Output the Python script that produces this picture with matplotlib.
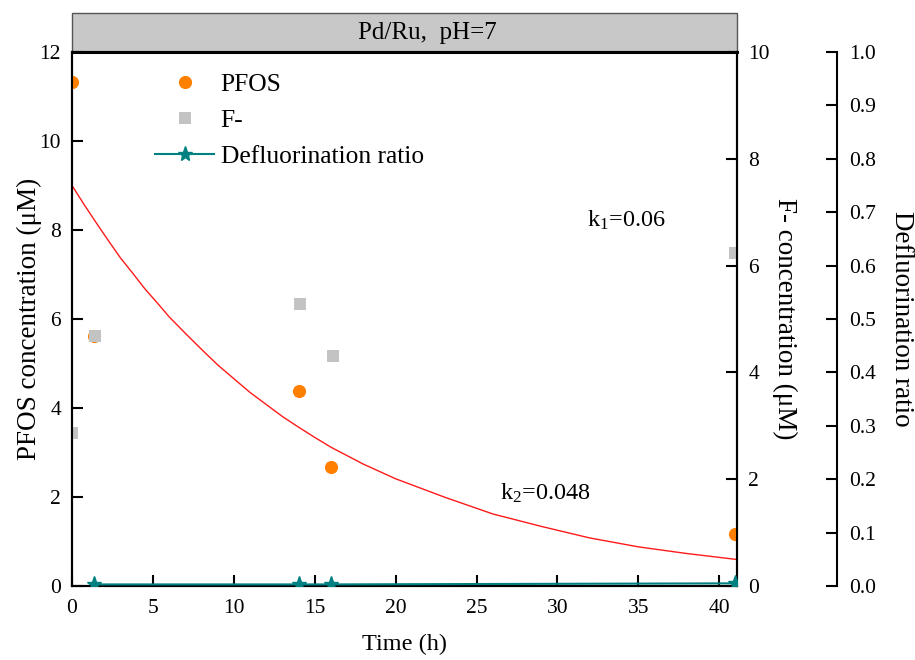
import matplotlib
matplotlib.use("Agg")
import matplotlib.pyplot as plt
from matplotlib.patches import Rectangle

plt.rcParams['font.family'] = ['Liberation Serif', 'DejaVu Serif']
plt.rcParams['mathtext.fontset'] = 'custom'
plt.rcParams['mathtext.rm'] = 'Liberation Serif'
plt.rcParams['mathtext.it'] = 'Liberation Serif:italic'

# Measured data
time_pfos = [0, 1.33, 14, 16, 41]
pfos_conc = [11.32, 5.62, 4.39, 2.67, 1.17]

time_f = [0, 1.4, 14.1, 16.1, 41]
f_conc = [2.87, 4.68, 5.29, 4.30, 6.24]

time_ratio = [1.33, 14, 16, 41]
defluor_ratio = [0.003, 0.003, 0.003, 0.005]

# First-order fit of PFOS decay
fit_time = [0, 0.75, 1.5, 2.25, 3, 3.75, 4.5, 5.25, 6, 7, 8, 9, 10, 11, 12, 13, 14,
            15, 16, 18, 20, 23, 26, 29, 32, 35, 38, 41]
fit_conc = [9.00, 8.57, 8.16, 7.76, 7.37, 7.03, 6.68, 6.37, 6.05, 5.68, 5.32, 4.97,
            4.66, 4.35, 4.08, 3.81, 3.57, 3.34, 3.12, 2.74, 2.41, 2.00, 1.62, 1.34,
            1.08, 0.88, 0.73, 0.60]

x_ticks = [0, 5, 10, 15, 20, 25, 30, 35, 40]
pfos_ticks = [0, 2, 4, 6, 8, 10, 12]
f_ticks = [0, 2, 4, 6, 8, 10]
ratio_ticks = [0.0, 0.1, 0.2, 0.3, 0.4, 0.5, 0.6, 0.7, 0.8, 0.9, 1.0]

fig = plt.figure(figsize=(9.15, 6.6), dpi=100)
ax = fig.add_axes([0.0787, 0.1121, 0.7268, 0.8091])
ax2 = ax.twinx()
ax3 = ax.twinx()

# PFOS on the left axis
p1, = ax.plot(time_pfos, pfos_conc, 'o', color='#ff8000', markersize=9.5,
              markeredgewidth=0, label='PFOS', zorder=4)
ax.plot(fit_time, fit_conc, color='#ff1a1a', lw=1.0, zorder=3)

# F- on the first right axis
p2, = ax2.plot(time_f, f_conc, 's', color='#c3c3c3', markersize=8.5,
               markeredgewidth=0, label='F-')

# defluorination ratio on the offset right axis
p3, = ax3.plot(time_ratio, defluor_ratio, '-*', color='#008080', lw=1.5,
               markersize=11, label='Defluorination ratio')

ax.set_xlim(0, 41.1)
ax.set_ylim(0, 12)
ax2.set_ylim(0, 10)
ax3.set_ylim(0, 1.0)

ax.set_xticks(x_ticks)
ax.set_yticks(pfos_ticks)
ax2.set_yticks(f_ticks)
ax3.set_yticks(ratio_ticks)
ax3.set_yticklabels(['%.1f' % v for v in ratio_ticks])

ax.tick_params(axis='both', direction='in', length=8, width=1.5, labelsize=15.5, pad=8)
ax.tick_params(axis='x', pad=9)
ax2.tick_params(axis='y', direction='in', length=8, width=1.5, labelsize=15.5, pad=8)
ax3.tick_params(axis='y', direction='in', length=8, width=1.5, labelsize=15.5, pad=9)

for a in (ax, ax2, ax3):
    for s in a.spines.values():
        s.set_linewidth(1.5)

ax3.spines['right'].set_position(('axes', 1.15))
for side in ('top', 'left', 'bottom'):
    ax3.spines[side].set_visible(False)
ax.spines['top'].set_linewidth(2.2)

ax.set_xlabel('Time (h)', fontsize=17.5, labelpad=12)
ax.set_ylabel('PFOS concentration (μM)', fontsize=19.5, labelpad=-2)
ax2.set_ylabel('F- concentration (μM)', fontsize=19.5, rotation=270, labelpad=20)
ax3.set_ylabel('Defluorination ratio', fontsize=19.5, rotation=270, labelpad=27)

# rate constants
ax.text(31.8, 8.07, r'k$_1$=0.06', fontsize=17.5, va='baseline')
ax.text(26.45, 1.93, r'k$_2$=0.048', fontsize=17.5, va='baseline')

# header bar
ax.add_patch(Rectangle((0, 1), 1, 0.073, transform=ax.transAxes, clip_on=False,
                       facecolor='#c8c8c8', edgecolor='#555555', lw=1.0))
ax.text(0.534, 1.0365, 'Pd/Ru,  pH=7', transform=ax.transAxes, ha='center',
        va='center', fontsize=18)

ax.legend(handles=[p1, p2, p3], loc='upper left', bbox_to_anchor=(0.11, 0.979),
          frameon=False, fontsize=18.4, handlelength=2.3, handletextpad=0.25,
          labelspacing=0.5, borderaxespad=0, numpoints=1)

fig.savefig('out.png', dpi=100)
